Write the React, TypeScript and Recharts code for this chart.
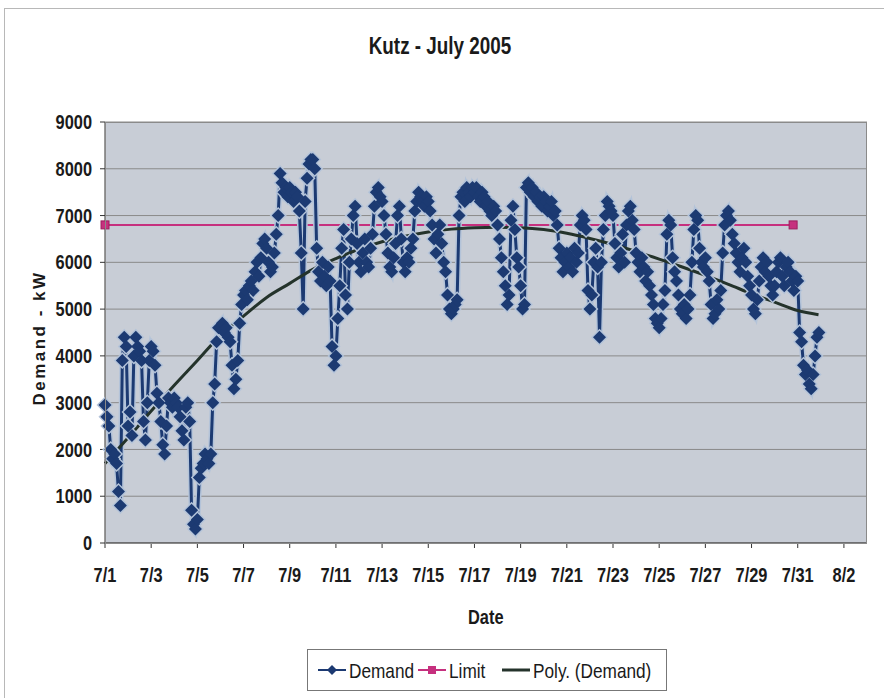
import React from "react";
import { LineChart, Line, XAxis, YAxis, CartesianGrid } from "recharts";

// x axis: days after 7/1 00:00
const TICK_DAYS = [0, 2, 4, 6, 8, 10, 12, 14, 16, 18, 20, 22, 24, 26, 28, 30, 32];
const TICK_LABELS = ["7/1", "7/3", "7/5", "7/7", "7/9", "7/11", "7/13", "7/15", "7/17", "7/19", "7/21", "7/23", "7/25", "7/27", "7/29", "7/31", "8/2"];
const Y_TICKS = [0, 1000, 2000, 3000, 4000, 5000, 6000, 7000, 8000, 9000];

// demand readings, 12 per day (every 2 h), kW
const READINGS_PER_DAY = 12;
const demandKw = [
  2950, 2700, 2500, 2000, 1800, 1900, 1700, 1100, 800, 3900, 4400, 4200, // 7/1
  2500, 2800, 2300, 4000, 4400, 4200, 4100, 3900, 2600, 2200, 3000, 3900, // 7/2
  4200, 4100, 3800, 3200, 3000, 2600, 2100, 1900, 2500, 3100, 3000, 2900, // 7/3
  3100, 3000, 2900, 2700, 2400, 2200, 2900, 3000, 2600, 700, 400, 300, // 7/4
  500, 1400, 1600, 1700, 1900, 1800, 1700, 1900, 3000, 3400, 4300, 4600, // 7/5
  4600, 4700, 4500, 4600, 4400, 4300, 3800, 3300, 3500, 3900, 4700, 5100, // 7/6
  5300, 5400, 5200, 5500, 5600, 5400, 5800, 6000, 5700, 6100, 6400, 6500, // 7/7
  6300, 6000, 5800, 5900, 6200, 6600, 7000, 7900, 7700, 7500, 7600, 7400, // 7/8
  7600, 7500, 7300, 7500, 7400, 7100, 6200, 5000, 7300, 7800, 8100, 8200, // 7/9
  8200, 8000, 6300, 5800, 5600, 6000, 5700, 5500, 5900, 5600, 4200, 3800, // 7/10
  4000, 4800, 5500, 6300, 6700, 5300, 5000, 6000, 6500, 7000, 7200, 6400, // 7/11
  6000, 5800, 6200, 6500, 6000, 5900, 6300, 6600, 7200, 7500, 7600, 7400, // 7/12
  7300, 7000, 6600, 6200, 5900, 5800, 6100, 6400, 7000, 7200, 6500, 6000, // 7/13
  5800, 6100, 6000, 6300, 6500, 7100, 7300, 7500, 7400, 7300, 7200, 7400, // 7/14
  7300, 7100, 6800, 6500, 6200, 6600, 6800, 6400, 6000, 5800, 5300, 5000, // 7/15
  4900, 5000, 5100, 5200, 7000, 7400, 7500, 7300, 7600, 7500, 7400, 7600, // 7/16
  7500, 7600, 7400, 7300, 7500, 7400, 7200, 7300, 7100, 7000, 7200, 7100, // 7/17
  6800, 6500, 6100, 5800, 5500, 5100, 5300, 6900, 7200, 6700, 6100, 5900, // 7/18
  5500, 5000, 5100, 7600, 7700, 7500, 7600, 7400, 7500, 7300, 7400, 7200, // 7/19
  7400, 7300, 7100, 7200, 7300, 7000, 7100, 6800, 6300, 6100, 5800, 6000, // 7/20
  6200, 5900, 6100, 5800, 6300, 6000, 6200, 6800, 7000, 6900, 6700, 5400, // 7/21
  5000, 5300, 6000, 6300, 5900, 4400, 6000, 6700, 7000, 7300, 7200, 7100, // 7/22
  7000, 6400, 6100, 5900, 6200, 6600, 6000, 6800, 7100, 7200, 6900, 6700, // 7/23
  6200, 6000, 5800, 6100, 5900, 5600, 5800, 5500, 5300, 5100, 4800, 4700, // 7/24
  4600, 4800, 5100, 5400, 6600, 6900, 6800, 6100, 5800, 5600, 5300, 5000, // 7/25
  4900, 5100, 4800, 5000, 5300, 6000, 6700, 7000, 6900, 6300, 6000, 5900, // 7/26
  6100, 5800, 5600, 5100, 4800, 4900, 5200, 5000, 5400, 6200, 6800, 7000, // 7/27
  7100, 6900, 6600, 6400, 6200, 6000, 5800, 6100, 6300, 6000, 5700, 5500, // 7/28
  5300, 5000, 4900, 5200, 5600, 5900, 6100, 5800, 6000, 5700, 5500, 5300, // 7/29
  5500, 5800, 6000, 6100, 5700, 5500, 5900, 6000, 5800, 5600, 5400, 5700, // 7/30
  5600, 4500, 4300, 3800, 3600, 3700, 3400, 3300, 3600, 4000, 4400, 4500, // 7/31
];

// Excel polynomial trendline
const trendDays = [0, 1, 2, 3, 4, 5, 6, 7, 8, 9, 10, 11, 12, 13, 14, 15, 16, 17, 18, 19, 20, 21, 22, 23, 24, 25, 26, 27, 28, 29, 30, 30.9];
const trendKw = [1700, 2250, 2820, 3370, 3900, 4440, 4850, 5250, 5550, 5850, 6080, 6280, 6440, 6560, 6650, 6710, 6740, 6750, 6740, 6700, 6620, 6510, 6380, 6230, 6070, 5900, 5720, 5530, 5330, 5150, 4970, 4880];

const limitDays = [0, 29.8];
const limitKw = [6800, 6800];

const NAVY = "#1c3a72";
const HALO = "#b3c3d9";
const PINK = "#c6307e";
const TREND = "#24332b";
const FONT = "'Liberation Sans', Arial, sans-serif";
const SQUEEZE = 0.82; // the original uses Arial Narrow

const demandData = demandKw.map((kw, i) => ({ day: i / READINGS_PER_DAY, kw }));
const trendData = trendDays.map((day, i) => ({ day, kw: trendKw[i] }));
const limitData = limitDays.map((day, i) => ({ day, kw: limitKw[i] }));

function Diamond(props: any) {
  const { cx, cy, index, r, fill } = props;
  if (cx == null || cy == null) return null;
  return (
    <path
      key={`dm-${fill}-${index}`}
      d={`M${cx},${cy - r}L${cx + r},${cy}L${cx},${cy + r}L${cx - r},${cy}Z`}
      fill={fill}
      stroke="none"
    />
  );
}

function Square(props: any) {
  const { cx, cy, index } = props;
  if (cx == null || cy == null) return null;
  return <rect key={`sq-${index}`} x={cx - 4} y={cy - 4} width={8} height={8} fill={PINK} stroke="#9c1f5e" strokeWidth={1} />;
}

function XTick(props: any) {
  const { x, y, payload } = props;
  const label = TICK_LABELS[TICK_DAYS.indexOf(payload.value)] ?? "";
  return (
    <text transform={`translate(${x},${y}) scale(${SQUEEZE},1)`} textAnchor="middle" dy="0.71em"
      fontFamily={FONT} fontSize={20} fontWeight={700} fill="#1a1a1a">
      {label}
    </text>
  );
}

function YTick(props: any) {
  const { x, y, payload } = props;
  return (
    <text transform={`translate(${x},${y}) scale(${SQUEEZE},1)`} textAnchor="end" dy="0.355em"
      fontFamily={FONT} fontSize={20} fontWeight={700} fill="#1a1a1a">
      {payload.value}
    </text>
  );
}

function Narrow({ left, top, size, bold, children }: any) {
  return (
    <div
      style={{
        position: "absolute", left, top, whiteSpace: "nowrap", fontFamily: FONT,
        fontSize: size, fontWeight: bold ? 700 : 400, color: "#1a1a1a", lineHeight: 1,
        transform: `scaleX(${SQUEEZE})`, transformOrigin: "left center",
      }}
    >
      {children}
    </div>
  );
}

export default function App() {
  return (
    <div style={{ position: "absolute", left: 0, top: 0, width: 884, height: 698, background: "#fff", overflow: "hidden" }}>
      {/* outer chart frame */}
      <div style={{ position: "absolute", left: 4, top: 8, width: 900, height: 720, border: "1px solid #b8b8b8" }} />

      <div
        style={{
          position: "absolute", left: 440, top: 35, transform: `translateX(-50%) scaleX(${SQUEEZE})`,
          whiteSpace: "nowrap", fontFamily: FONT, fontWeight: 700, fontSize: 23, lineHeight: 1, color: "#1a1a1a",
        }}
      >
        Kutz - July 2005
      </div>

      <LineChart width={884} height={698} margin={{ top: 122, right: 17, bottom: 100, left: 0 }}>
        <CartesianGrid fill="#c8cdd6" stroke="#8a8a8a" vertical={false} />
        <XAxis
          type="number"
          dataKey="day"
          domain={[0, 33]}
          ticks={TICK_DAYS}
          height={55}
          tickSize={5}
          tickMargin={20}
          tick={<XTick />}
          stroke="#333"
        />
        <YAxis
          type="number"
          domain={[0, 9000]}
          ticks={Y_TICKS}
          width={105}
          tickSize={5}
          tickMargin={8}
          tick={<YTick />}
          stroke="#333"
        />
        <Line
          data={limitData}
          dataKey="kw"
          stroke={PINK}
          strokeWidth={2}
          dot={(p: any) => <Square {...p} />}
          activeDot={false}
          isAnimationActive={false}
        />
        <Line
          data={demandData}
          dataKey="kw"
          stroke={HALO}
          strokeWidth={6}
          dot={(p: any) => <Diamond {...p} r={8.5} fill={HALO} />}
          activeDot={false}
          isAnimationActive={false}
        />
        <Line
          data={demandData}
          dataKey="kw"
          stroke={NAVY}
          strokeWidth={3}
          dot={(p: any) => <Diamond {...p} r={6.5} fill={NAVY} />}
          activeDot={false}
          isAnimationActive={false}
        />
        <Line
          data={trendData}
          dataKey="kw"
          type="monotone"
          stroke={TREND}
          strokeWidth={3}
          dot={false}
          activeDot={false}
          isAnimationActive={false}
        />
      </LineChart>

      {/* plot area border */}
      <div style={{ position: "absolute", left: 105, top: 122, width: 762, height: 422, border: "1px solid #8a8a8a", boxSizing: "border-box", pointerEvents: "none" }} />

      <div
        style={{
          position: "absolute", left: 40, top: 338, transform: "translate(-50%, -50%) rotate(-90deg)",
          whiteSpace: "nowrap", fontFamily: FONT, fontWeight: 700,
          fontSize: 17, letterSpacing: 2.5, color: "#1a1a1a",
        }}
      >
        Demand - kW
      </div>

      <Narrow left={468} top={607} size={20} bold>Date</Narrow>

      {/* legend */}
      <div style={{ position: "absolute", left: 307, top: 649, width: 360, height: 42, boxSizing: "border-box", border: "1px solid #777", background: "#fff" }} />
      <svg style={{ position: "absolute", left: 307, top: 649 }} width={360} height={42}>
        <line x1={11} y1={21} x2={39} y2={21} stroke={NAVY} strokeWidth={2} />
        <path d="M25,16L30,21L25,26L20,21Z" fill={NAVY} />
        <line x1={111} y1={21} x2={139} y2={21} stroke={PINK} strokeWidth={2} />
        <rect x={121} y={17} width={8} height={8} fill={PINK} />
        <line x1={195} y1={21} x2={223} y2={21} stroke={TREND} strokeWidth={3} />
      </svg>
      <Narrow left={349} top={660} size={21}>Demand</Narrow>
      <Narrow left={449} top={660} size={21}>Limit</Narrow>
      <Narrow left={533} top={660} size={21}>Poly. (Demand)</Narrow>
    </div>
  );
}
